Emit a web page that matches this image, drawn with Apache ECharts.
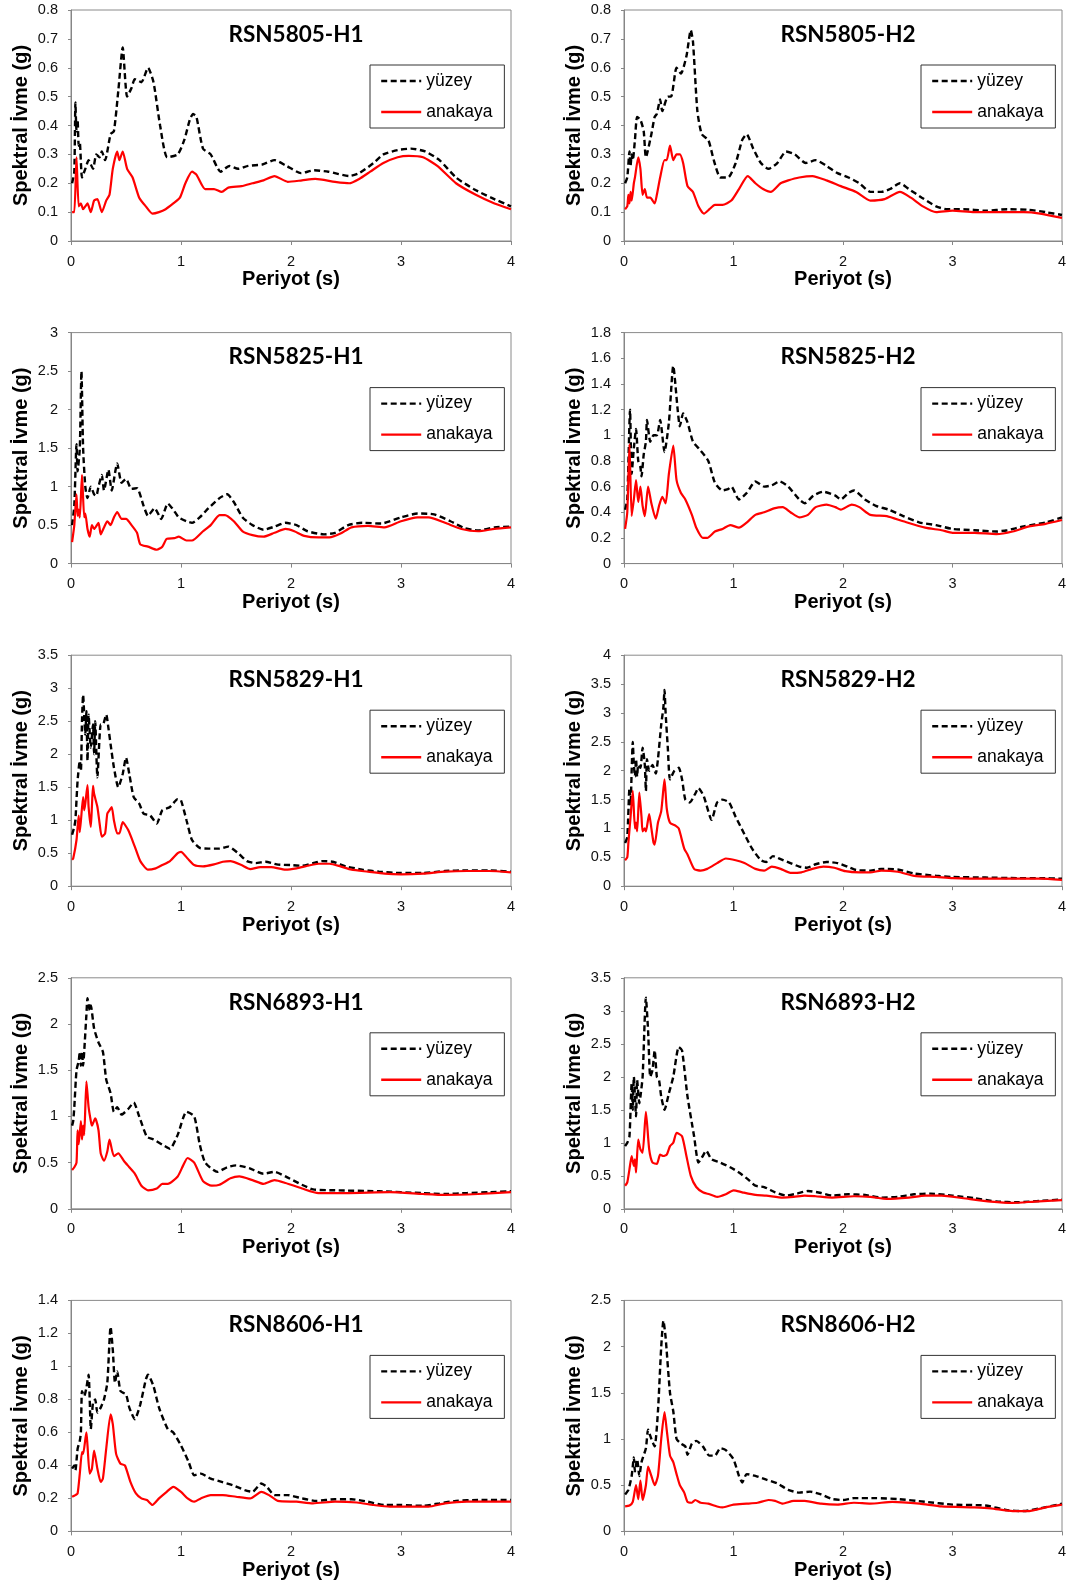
<!DOCTYPE html>
<html>
<head>
<meta charset="utf-8">
<script src="https://cdn.jsdelivr.net/npm/echarts/dist/echarts.min.js"></script>
<style>
  html, body { margin: 0; padding: 0; background: #ffffff; }
  #chart { width: 1075px; height: 1586px; }
</style>
</head>
<body>
<div id="chart"></div>
<script>
// Response spectra: surface (yüzey) vs. bedrock (anakaya), period T [s] vs. Sa [g]

const panelTitles = ['RSN5805-H1', 'RSN5805-H2', 'RSN5825-H1', 'RSN5825-H2', 'RSN5829-H1',
                     'RSN5829-H2', 'RSN6893-H1', 'RSN6893-H2', 'RSN8606-H1', 'RSN8606-H2'];
const yMaxValues = [0.8, 0.8, 3, 1.8, 3.5, 4, 2.5, 3.5, 1.4, 2.5];
const yIntervals = [0.1, 0.1, 0.5, 0.2, 0.5, 0.5, 0.5, 0.5, 0.2, 0.5];
const xTicks = [0, 1, 2, 3, 4];
const seriesNames = ['yüzey', 'anakaya'];

const rsn5805H1Yuzey = [[0.01,0.20],[0.03,0.24],[0.04,0.48],[0.05,0.38],[0.06,0.42],[0.07,0.33],[0.08,0.34],[0.1,0.22],[0.13,0.25],[0.16,0.28],[0.2,0.25],[0.23,0.30],[0.26,0.29],[0.28,0.31],[0.31,0.28],[0.36,0.37],[0.39,0.38],[0.43,0.52],[0.47,0.67],[0.51,0.50],[0.55,0.53],[0.58,0.56],[0.64,0.55],[0.70,0.60],[0.75,0.55],[0.81,0.40],[0.875,0.29],[0.97,0.30],[1.03,0.35],[1.08,0.42],[1.11,0.44],[1.14,0.43],[1.2,0.32],[1.27,0.30],[1.36,0.24],[1.44,0.26],[1.52,0.25],[1.61,0.26],[1.74,0.265],[1.85,0.28],[1.96,0.26],[2.09,0.235],[2.21,0.245],[2.34,0.24],[2.53,0.225],[2.62,0.235],[2.75,0.27],[2.84,0.30],[2.97,0.315],[3.09,0.32],[3.22,0.31],[3.35,0.28],[3.5,0.22],[3.66,0.18],[3.82,0.15],[4.0,0.12]];
const rsn5805H1Anakaya = [[0.01,0.10],[0.03,0.10],[0.05,0.29],[0.07,0.12],[0.09,0.13],[0.11,0.11],[0.13,0.12],[0.15,0.13],[0.18,0.10],[0.21,0.14],[0.24,0.145],[0.28,0.10],[0.32,0.14],[0.35,0.16],[0.38,0.25],[0.42,0.31],[0.44,0.28],[0.47,0.31],[0.51,0.25],[0.56,0.22],[0.62,0.15],[0.68,0.12],[0.74,0.095],[0.8,0.10],[0.86,0.11],[0.93,0.13],[0.99,0.15],[1.04,0.20],[1.1,0.24],[1.14,0.23],[1.22,0.18],[1.3,0.18],[1.37,0.17],[1.43,0.185],[1.55,0.19],[1.65,0.20],[1.75,0.21],[1.85,0.225],[1.97,0.205],[2.1,0.21],[2.22,0.215],[2.4,0.205],[2.53,0.20],[2.62,0.215],[2.72,0.24],[2.84,0.27],[2.97,0.29],[3.07,0.295],[3.2,0.29],[3.33,0.26],[3.5,0.20],[3.68,0.16],[3.85,0.13],[4.0,0.11]];

const rsn5805H2Yuzey = [[0.01,0.20],[0.03,0.22],[0.05,0.31],[0.06,0.26],[0.07,0.30],[0.08,0.28],[0.1,0.35],[0.12,0.43],[0.15,0.42],[0.18,0.38],[0.2,0.29],[0.25,0.37],[0.28,0.43],[0.3,0.44],[0.33,0.49],[0.35,0.45],[0.4,0.50],[0.43,0.50],[0.48,0.60],[0.52,0.58],[0.57,0.64],[0.61,0.73],[0.63,0.69],[0.67,0.45],[0.71,0.37],[0.77,0.35],[0.82,0.28],[0.88,0.22],[0.95,0.22],[1.02,0.27],[1.08,0.35],[1.12,0.37],[1.18,0.32],[1.25,0.27],[1.32,0.25],[1.4,0.27],[1.48,0.31],[1.56,0.30],[1.66,0.27],[1.75,0.28],[1.85,0.26],[1.95,0.235],[2.05,0.22],[2.15,0.20],[2.25,0.17],[2.35,0.17],[2.43,0.18],[2.52,0.20],[2.6,0.18],[2.72,0.15],[2.85,0.12],[2.95,0.11],[3.1,0.11],[3.3,0.105],[3.5,0.11],[3.7,0.108],[3.85,0.10],[4.0,0.09]];
const rsn5805H2Anakaya = [[0.01,0.11],[0.03,0.12],[0.04,0.16],[0.05,0.13],[0.06,0.17],[0.07,0.14],[0.09,0.20],[0.1,0.22],[0.13,0.29],[0.15,0.25],[0.17,0.16],[0.19,0.18],[0.21,0.15],[0.24,0.15],[0.28,0.13],[0.3,0.16],[0.33,0.22],[0.37,0.28],[0.39,0.28],[0.42,0.33],[0.45,0.28],[0.48,0.30],[0.51,0.30],[0.54,0.27],[0.58,0.19],[0.63,0.17],[0.68,0.12],[0.73,0.095],[0.78,0.11],[0.83,0.125],[0.9,0.125],[0.98,0.14],[1.05,0.18],[1.13,0.225],[1.2,0.20],[1.27,0.18],[1.34,0.17],[1.43,0.20],[1.5,0.21],[1.6,0.22],[1.72,0.225],[1.85,0.21],[1.98,0.19],[2.12,0.17],[2.25,0.14],[2.38,0.145],[2.52,0.17],[2.62,0.15],[2.73,0.12],[2.85,0.10],[3.0,0.105],[3.2,0.10],[3.4,0.10],[3.65,0.10],[3.8,0.095],[4.0,0.08]];

const rsn5825H1Yuzey = [[0.01,0.50],[0.03,0.75],[0.05,1.55],[0.06,1.20],[0.08,1.50],[0.095,2.50],[0.11,1.50],[0.13,1.00],[0.15,0.85],[0.18,1.00],[0.21,0.90],[0.23,0.88],[0.25,1.00],[0.28,1.15],[0.3,0.95],[0.34,1.22],[0.37,0.95],[0.42,1.30],[0.46,1.05],[0.5,1.10],[0.55,0.97],[0.6,0.98],[0.66,0.75],[0.7,0.62],[0.76,0.72],[0.82,0.58],[0.88,0.78],[0.93,0.70],[0.98,0.60],[1.05,0.55],[1.1,0.53],[1.17,0.60],[1.25,0.72],[1.35,0.85],[1.42,0.90],[1.48,0.80],[1.56,0.60],[1.65,0.50],[1.75,0.44],[1.85,0.48],[1.95,0.53],[2.05,0.50],[2.15,0.42],[2.3,0.38],[2.4,0.40],[2.52,0.50],[2.65,0.53],[2.82,0.52],[3.0,0.60],[3.15,0.65],[3.3,0.64],[3.45,0.55],[3.58,0.46],[3.7,0.43],[3.85,0.47],[4.0,0.48]];
const rsn5825H1Anakaya = [[0.01,0.28],[0.03,0.50],[0.05,0.90],[0.06,0.62],[0.07,0.70],[0.08,0.60],[0.1,1.15],[0.12,0.60],[0.13,0.65],[0.15,0.45],[0.17,0.35],[0.19,0.50],[0.21,0.45],[0.25,0.53],[0.27,0.38],[0.3,0.47],[0.33,0.55],[0.36,0.50],[0.39,0.60],[0.42,0.67],[0.46,0.58],[0.5,0.58],[0.55,0.50],[0.6,0.40],[0.63,0.25],[0.7,0.22],[0.78,0.18],[0.83,0.22],[0.87,0.32],[0.94,0.33],[0.98,0.35],[1.05,0.30],[1.1,0.30],[1.2,0.42],[1.27,0.50],[1.35,0.63],[1.4,0.63],[1.48,0.55],[1.56,0.42],[1.65,0.37],[1.75,0.35],[1.85,0.40],[1.95,0.45],[2.03,0.42],[2.12,0.36],[2.25,0.34],[2.35,0.34],[2.45,0.39],[2.55,0.47],[2.7,0.49],[2.85,0.47],[3.0,0.55],[3.15,0.60],[3.25,0.60],[3.4,0.53],[3.55,0.45],[3.7,0.42],[3.85,0.45],[4.0,0.47]];

const rsn5825H2Yuzey = [[0.01,0.42],[0.03,0.50],[0.055,1.20],[0.07,0.70],[0.09,0.90],[0.11,1.05],[0.13,0.80],[0.15,0.75],[0.16,0.68],[0.18,0.85],[0.2,0.95],[0.21,1.12],[0.24,0.95],[0.27,1.00],[0.3,1.00],[0.33,1.12],[0.37,0.87],[0.41,1.10],[0.45,1.54],[0.49,1.20],[0.51,1.07],[0.54,1.17],[0.58,1.10],[0.63,0.95],[0.7,0.88],[0.77,0.80],[0.83,0.63],[0.9,0.57],[0.95,0.58],[0.98,0.60],[1.05,0.50],[1.12,0.55],[1.2,0.64],[1.28,0.60],[1.35,0.61],[1.42,0.64],[1.5,0.60],[1.6,0.50],[1.65,0.47],[1.73,0.53],[1.82,0.56],[1.93,0.53],[1.98,0.50],[2.05,0.55],[2.1,0.57],[2.2,0.50],[2.3,0.45],[2.42,0.42],[2.55,0.37],[2.7,0.32],[2.85,0.30],[3.0,0.27],[3.2,0.26],[3.4,0.25],[3.5,0.26],[3.65,0.29],[3.85,0.32],[4.0,0.36]];
const rsn5825H2Anakaya = [[0.01,0.27],[0.03,0.40],[0.05,0.93],[0.07,0.37],[0.09,0.50],[0.11,0.65],[0.13,0.48],[0.15,0.60],[0.17,0.45],[0.19,0.37],[0.22,0.60],[0.25,0.47],[0.29,0.35],[0.32,0.45],[0.35,0.52],[0.38,0.47],[0.41,0.70],[0.45,0.92],[0.48,0.65],[0.52,0.55],[0.56,0.50],[0.62,0.38],[0.66,0.28],[0.72,0.20],[0.76,0.20],[0.83,0.25],[0.9,0.27],[0.97,0.30],[1.05,0.28],[1.12,0.32],[1.2,0.38],[1.28,0.40],[1.37,0.43],[1.45,0.44],[1.52,0.40],[1.6,0.36],[1.68,0.38],[1.75,0.44],[1.85,0.46],[1.93,0.44],[1.98,0.42],[2.08,0.46],[2.15,0.44],[2.25,0.38],[2.4,0.37],[2.55,0.33],[2.75,0.28],[2.9,0.26],[3.0,0.24],[3.2,0.24],[3.4,0.23],[3.55,0.25],[3.7,0.29],[3.85,0.31],[4.0,0.34]];

const rsn5829H1Yuzey = [[0.01,0.78],[0.03,0.90],[0.04,1.00],[0.06,1.60],[0.08,1.90],[0.09,1.75],[0.1,2.50],[0.11,2.90],[0.13,2.30],[0.14,2.65],[0.15,1.90],[0.16,2.60],[0.18,2.10],[0.2,2.45],[0.21,2.00],[0.22,2.50],[0.24,1.65],[0.27,2.45],[0.29,2.45],[0.32,2.60],[0.34,2.40],[0.36,2.15],[0.39,1.80],[0.43,1.50],[0.47,1.70],[0.5,1.95],[0.53,1.70],[0.57,1.35],[0.62,1.25],[0.66,1.10],[0.72,1.07],[0.78,0.95],[0.83,1.15],[0.9,1.20],[0.97,1.32],[1.0,1.30],[1.05,1.00],[1.1,0.70],[1.17,0.58],[1.25,0.57],[1.35,0.57],[1.43,0.60],[1.52,0.50],[1.6,0.38],[1.68,0.35],[1.77,0.37],[1.87,0.33],[2.0,0.32],[2.1,0.31],[2.2,0.35],[2.28,0.38],[2.38,0.37],[2.5,0.30],[2.65,0.25],[2.8,0.22],[3.0,0.20],[3.2,0.20],[3.4,0.23],[3.6,0.24],[3.8,0.24],[4.0,0.22]];
const rsn5829H1Anakaya = [[0.01,0.40],[0.02,0.42],[0.05,0.70],[0.07,1.07],[0.08,0.82],[0.11,1.35],[0.12,1.15],[0.13,1.25],[0.15,1.53],[0.16,1.20],[0.18,0.90],[0.19,1.20],[0.2,1.52],[0.21,1.40],[0.24,1.20],[0.26,0.95],[0.28,0.75],[0.31,0.80],[0.33,1.10],[0.35,1.15],[0.37,1.20],[0.39,1.00],[0.42,0.80],[0.44,0.80],[0.47,0.97],[0.52,0.85],[0.58,0.60],[0.63,0.38],[0.7,0.25],[0.77,0.27],[0.83,0.32],[0.9,0.38],[0.97,0.50],[1.0,0.52],[1.06,0.42],[1.12,0.32],[1.2,0.30],[1.3,0.33],[1.38,0.37],[1.45,0.38],[1.55,0.32],[1.63,0.26],[1.72,0.29],[1.82,0.29],[1.95,0.25],[2.05,0.27],[2.15,0.31],[2.25,0.34],[2.35,0.34],[2.45,0.30],[2.55,0.25],[2.7,0.22],[2.85,0.19],[3.0,0.18],[3.2,0.19],[3.4,0.22],[3.6,0.23],[3.8,0.23],[4.0,0.21]];

const rsn5829H2Yuzey = [[0.01,0.75],[0.03,0.85],[0.05,1.70],[0.06,1.40],[0.07,2.00],[0.08,2.50],[0.09,2.10],[0.1,1.90],[0.11,2.20],[0.12,1.90],[0.13,2.10],[0.15,2.05],[0.17,2.40],[0.19,2.10],[0.2,1.65],[0.21,2.20],[0.23,2.00],[0.26,2.10],[0.29,1.95],[0.31,2.20],[0.34,2.80],[0.36,3.10],[0.37,3.40],[0.38,3.00],[0.4,2.40],[0.42,1.85],[0.46,2.00],[0.5,2.05],[0.53,1.85],[0.56,1.50],[0.6,1.45],[0.65,1.60],[0.68,1.70],[0.73,1.55],[0.8,1.15],[0.85,1.45],[0.9,1.50],[0.96,1.45],[1.02,1.20],[1.1,0.90],[1.17,0.65],[1.25,0.45],[1.3,0.42],[1.36,0.52],[1.43,0.47],[1.52,0.40],[1.6,0.34],[1.67,0.32],[1.75,0.38],[1.85,0.42],[1.95,0.40],[2.05,0.33],[2.12,0.28],[2.25,0.27],[2.35,0.30],[2.5,0.29],[2.65,0.22],[2.85,0.18],[3.0,0.16],[3.3,0.15],[3.6,0.14],[3.8,0.14],[4.0,0.13]];
const rsn5829H2Anakaya = [[0.01,0.45],[0.03,0.50],[0.04,0.75],[0.06,1.20],[0.08,1.65],[0.1,1.00],[0.11,1.10],[0.12,0.95],[0.14,1.62],[0.16,1.20],[0.17,0.95],[0.19,1.00],[0.2,0.95],[0.23,1.25],[0.25,1.00],[0.27,0.75],[0.28,0.72],[0.31,1.10],[0.34,1.30],[0.37,1.85],[0.39,1.35],[0.42,1.10],[0.47,1.05],[0.5,1.00],[0.55,0.65],[0.58,0.55],[0.64,0.30],[0.7,0.27],[0.76,0.30],[0.85,0.40],[0.93,0.48],[1.02,0.45],[1.1,0.40],[1.2,0.30],[1.28,0.27],[1.35,0.34],[1.43,0.30],[1.52,0.23],[1.62,0.24],[1.72,0.30],[1.82,0.34],[1.92,0.32],[2.02,0.26],[2.15,0.24],[2.25,0.24],[2.35,0.27],[2.5,0.25],[2.65,0.18],[2.85,0.16],[3.0,0.14],[3.3,0.13],[3.6,0.13],[3.8,0.13],[4.0,0.11]];

const rsn6893H1Yuzey = [[0.01,0.90],[0.02,0.95],[0.03,1.10],[0.05,1.50],[0.07,1.60],[0.08,1.70],[0.09,1.55],[0.1,1.70],[0.11,1.55],[0.12,1.70],[0.14,2.10],[0.15,2.28],[0.17,2.15],[0.18,2.20],[0.21,1.95],[0.25,1.80],[0.29,1.70],[0.32,1.40],[0.36,1.25],[0.39,1.05],[0.42,1.10],[0.46,1.02],[0.52,1.08],[0.57,1.15],[0.62,1.00],[0.69,0.78],[0.75,0.75],[0.85,0.68],[0.9,0.65],[0.97,0.80],[1.05,1.05],[1.12,1.00],[1.17,0.70],[1.22,0.50],[1.33,0.40],[1.42,0.45],[1.5,0.47],[1.62,0.44],[1.75,0.38],[1.85,0.40],[1.95,0.35],[2.1,0.26],[2.2,0.21],[2.4,0.20],[2.8,0.19],[3.2,0.17],[3.4,0.16],[3.6,0.17],[3.8,0.18],[4.0,0.19]];
const rsn6893H1Anakaya = [[0.01,0.42],[0.03,0.45],[0.05,0.50],[0.06,0.85],[0.07,0.70],[0.09,0.95],[0.1,0.75],[0.11,0.90],[0.12,0.80],[0.14,1.38],[0.16,1.10],[0.18,0.95],[0.19,0.90],[0.22,0.98],[0.25,0.85],[0.27,0.60],[0.3,0.52],[0.33,0.62],[0.35,0.75],[0.39,0.57],[0.43,0.60],[0.48,0.52],[0.53,0.45],[0.58,0.38],[0.64,0.25],[0.7,0.20],[0.78,0.22],[0.83,0.27],[0.88,0.27],[0.97,0.35],[1.02,0.47],[1.06,0.55],[1.12,0.50],[1.2,0.30],[1.28,0.25],[1.35,0.26],[1.45,0.33],[1.53,0.35],[1.65,0.31],[1.75,0.27],[1.85,0.31],[1.95,0.28],[2.1,0.22],[2.25,0.17],[2.5,0.17],[2.9,0.18],[3.2,0.16],[3.4,0.15],[3.7,0.16],[4.0,0.18]];

const rsn6893H2Yuzey = [[0.01,0.95],[0.03,1.00],[0.05,1.10],[0.07,1.90],[0.08,1.50],[0.09,2.00],[0.11,1.40],[0.12,1.95],[0.14,1.60],[0.15,1.70],[0.17,2.00],[0.2,3.20],[0.22,2.70],[0.24,2.00],[0.26,2.10],[0.28,2.40],[0.3,2.00],[0.32,1.95],[0.34,1.70],[0.37,1.50],[0.41,1.75],[0.45,2.00],[0.5,2.45],[0.53,2.40],[0.58,1.70],[0.64,1.10],[0.68,0.70],[0.72,0.80],[0.75,0.88],[0.8,0.75],[0.88,0.70],[0.97,0.63],[1.05,0.55],[1.13,0.45],[1.2,0.35],[1.28,0.33],[1.38,0.25],[1.48,0.20],[1.58,0.23],[1.68,0.27],[1.8,0.24],[1.9,0.20],[2.05,0.22],[2.2,0.21],[2.35,0.17],[2.5,0.18],[2.65,0.22],[2.8,0.23],[3.0,0.20],[3.2,0.16],[3.4,0.11],[3.6,0.10],[3.8,0.12],[4.0,0.14]];
const rsn6893H2Anakaya = [[0.01,0.35],[0.03,0.40],[0.05,0.60],[0.07,0.80],[0.09,0.65],[0.1,0.75],[0.11,0.55],[0.13,1.05],[0.15,0.90],[0.17,0.85],[0.2,1.47],[0.23,0.90],[0.26,0.70],[0.3,0.68],[0.33,0.82],[0.36,0.80],[0.39,0.82],[0.42,0.95],[0.45,1.00],[0.48,1.15],[0.53,1.10],[0.57,0.80],[0.61,0.50],[0.66,0.33],[0.72,0.25],[0.78,0.22],[0.85,0.18],[0.93,0.22],[1.0,0.28],[1.08,0.25],[1.2,0.21],[1.3,0.20],[1.45,0.17],[1.55,0.18],[1.65,0.20],[1.75,0.19],[1.9,0.17],[2.1,0.19],[2.25,0.18],[2.4,0.15],[2.6,0.17],[2.75,0.20],[2.9,0.20],[3.1,0.16],[3.35,0.11],[3.55,0.09],[3.75,0.11],[4.0,0.13]];

const rsn8606H1Yuzey = [[0.01,0.38],[0.03,0.40],[0.04,0.37],[0.06,0.50],[0.08,0.55],[0.09,0.60],[0.1,0.85],[0.12,0.82],[0.14,0.87],[0.16,0.95],[0.17,0.80],[0.18,0.62],[0.2,0.78],[0.22,0.80],[0.24,0.72],[0.27,0.75],[0.3,0.80],[0.33,0.90],[0.36,1.24],[0.38,1.10],[0.4,0.90],[0.42,0.97],[0.45,0.85],[0.5,0.83],[0.53,0.75],[0.58,0.68],[0.63,0.77],[0.68,0.92],[0.7,0.95],[0.75,0.88],[0.8,0.75],[0.88,0.62],[0.93,0.60],[1.0,0.52],[1.07,0.42],[1.12,0.34],[1.18,0.35],[1.27,0.32],[1.37,0.30],[1.47,0.28],[1.58,0.25],[1.65,0.24],[1.73,0.29],[1.78,0.27],[1.85,0.22],[1.97,0.22],[2.1,0.20],[2.23,0.185],[2.4,0.195],[2.55,0.195],[2.7,0.18],[2.85,0.16],[3.0,0.16],[3.2,0.155],[3.35,0.17],[3.5,0.185],[3.7,0.19],[4.0,0.19]];
const rsn8606H1Anakaya = [[0.01,0.21],[0.04,0.22],[0.06,0.23],[0.08,0.35],[0.1,0.48],[0.11,0.47],[0.14,0.60],[0.15,0.52],[0.17,0.35],[0.19,0.38],[0.21,0.49],[0.24,0.38],[0.27,0.30],[0.29,0.32],[0.32,0.50],[0.36,0.71],[0.38,0.65],[0.41,0.47],[0.45,0.41],[0.49,0.40],[0.54,0.30],[0.59,0.23],[0.64,0.20],[0.69,0.19],[0.74,0.16],[0.8,0.20],[0.87,0.24],[0.93,0.27],[1.0,0.24],[1.06,0.20],[1.12,0.18],[1.18,0.20],[1.27,0.22],[1.38,0.22],[1.5,0.21],[1.63,0.20],[1.73,0.24],[1.8,0.22],[1.88,0.185],[2.05,0.18],[2.2,0.17],[2.4,0.18],[2.6,0.175],[2.75,0.16],[2.9,0.15],[3.1,0.15],[3.25,0.15],[3.4,0.17],[3.6,0.18],[4.0,0.18]];

const rsn8606H2Yuzey = [[0.01,0.40],[0.04,0.45],[0.07,0.60],[0.09,0.80],[0.1,0.65],[0.12,0.78],[0.14,0.60],[0.16,0.75],[0.2,0.90],[0.22,1.10],[0.25,1.00],[0.28,0.92],[0.31,1.30],[0.34,2.00],[0.36,2.28],[0.38,2.10],[0.42,1.50],[0.45,1.30],[0.48,1.00],[0.52,0.95],[0.56,0.92],[0.58,0.83],[0.62,0.95],[0.66,0.98],[0.72,0.92],[0.78,0.82],[0.83,0.82],[0.88,0.90],[0.93,0.88],[1.0,0.78],[1.05,0.60],[1.08,0.53],[1.12,0.62],[1.2,0.60],[1.3,0.56],[1.4,0.52],[1.5,0.45],[1.6,0.42],[1.7,0.43],[1.8,0.40],[1.9,0.35],[2.0,0.34],[2.1,0.36],[2.3,0.36],[2.5,0.35],[2.75,0.32],[3.0,0.29],[3.3,0.28],[3.5,0.23],[3.65,0.22],[3.8,0.25],[4.0,0.30]];
const rsn8606H2Anakaya = [[0.01,0.27],[0.05,0.28],[0.08,0.32],[0.11,0.50],[0.13,0.35],[0.15,0.55],[0.17,0.34],[0.2,0.50],[0.22,0.70],[0.25,0.60],[0.28,0.50],[0.31,0.60],[0.34,1.00],[0.37,1.29],[0.39,1.10],[0.42,0.82],[0.45,0.75],[0.48,0.62],[0.51,0.50],[0.55,0.42],[0.58,0.32],[0.62,0.31],[0.65,0.34],[0.7,0.31],[0.77,0.30],[0.85,0.27],[0.9,0.26],[1.0,0.29],[1.12,0.30],[1.22,0.31],[1.32,0.34],[1.38,0.33],[1.45,0.30],[1.55,0.33],[1.65,0.33],[1.8,0.30],[1.95,0.29],[2.1,0.31],[2.25,0.30],[2.45,0.32],[2.7,0.30],[2.9,0.27],[3.2,0.26],[3.35,0.25],[3.55,0.22],[3.7,0.22],[3.85,0.26],[4.0,0.29]];

const surfaceSets = [rsn5805H1Yuzey, rsn5805H2Yuzey, rsn5825H1Yuzey, rsn5825H2Yuzey, rsn5829H1Yuzey,
                     rsn5829H2Yuzey, rsn6893H1Yuzey, rsn6893H2Yuzey, rsn8606H1Yuzey, rsn8606H2Yuzey];
const bedrockSets = [rsn5805H1Anakaya, rsn5805H2Anakaya, rsn5825H1Anakaya, rsn5825H2Anakaya, rsn5829H1Anakaya,
                     rsn5829H2Anakaya, rsn6893H1Anakaya, rsn6893H2Anakaya, rsn8606H1Anakaya, rsn8606H2Anakaya];

// Panel layout (2 columns x 5 rows)
const colLeft = [71, 624];
const colWidth = [440, 438];
const rowTop0 = 10;
const rowStep = 322.6;
const plotHeight = 231;

const labelFont = 'Arial, "Liberation Sans", sans-serif';
const grids = [], xAxes = [], yAxes = [], series = [], titles = [], legends = [];

panelTitles.forEach(function (name, i) {
  const col = i % 2, row = Math.floor(i / 2);
  const left = colLeft[col], width = colWidth[col];
  const top = rowTop0 + row * rowStep;

  grids.push({
    left: left, top: top, width: width, height: plotHeight,
    show: true, borderColor: '#8a8a8a', borderWidth: 1, backgroundColor: 'transparent',
    containLabel: false
  });

  xAxes.push({
    type: 'value', gridIndex: i, min: xTicks[0], max: xTicks[xTicks.length - 1], interval: 1,
    name: 'Periyot (s)', nameLocation: 'middle', nameGap: 28,
    nameTextStyle: { fontFamily: labelFont, fontWeight: 'bold', fontSize: 20, color: '#000' },
    axisLine: { show: true, onZero: false, lineStyle: { color: '#868686', width: 1 } },
    axisTick: { show: true, inside: false, length: 4, lineStyle: { color: '#868686' } },
    axisLabel: { fontFamily: labelFont, fontSize: 14.5, color: '#111', margin: 13 },
    splitLine: { show: false }
  });

  yAxes.push({
    type: 'value', gridIndex: i, min: 0, max: yMaxValues[i], interval: yIntervals[i],
    name: 'Spektral İvme (g)', nameLocation: 'middle', nameGap: 40, nameRotate: 90,
    nameTextStyle: { fontFamily: labelFont, fontWeight: 'bold', fontSize: 20, color: '#000' },
    axisLine: { show: true, onZero: false, lineStyle: { color: '#868686', width: 1 } },
    axisTick: { show: true, inside: false, length: 3, lineStyle: { color: '#868686' } },
    axisLabel: { fontFamily: labelFont, fontSize: 14.5, color: '#111', margin: 13 },
    splitLine: { show: false }
  });

  titles.push({
    text: name, left: left + width / 2, top: top + 8, textAlign: 'center',
    textStyle: { fontFamily: 'Lato, "Open Sans", sans-serif', fontWeight: 'bold', fontSize: 22.5, color: '#000' }
  });

  legends.push({
    data: seriesNames, orient: 'vertical',
    left: left + width - 141, top: top + 55,
    padding: [7, 12, 7, 10], itemGap: 13, itemWidth: 40, itemHeight: 16,
    borderColor: '#333', borderWidth: 1, backgroundColor: '#fff',
    itemStyle: { opacity: 0, borderWidth: 0 },
    lineStyle: { width: 2.4 },
    textStyle: { fontFamily: labelFont, fontSize: 17.5, color: '#000', padding: [0, 0, 0, 0] },
    selectedMode: false
  });

  series.push({
    name: seriesNames[0], type: 'line', xAxisIndex: i, yAxisIndex: i,
    data: surfaceSets[i], showSymbol: false, symbol: 'none', smooth: 0.2,
    lineStyle: { color: '#000', width: 2.4, type: [6, 3.5] },
    itemStyle: { color: '#000' }, z: 3, animation: false
  });
  series.push({
    name: seriesNames[1], type: 'line', xAxisIndex: i, yAxisIndex: i,
    data: bedrockSets[i], showSymbol: false, symbol: 'none', smooth: 0.2,
    lineStyle: { color: '#ff0000', width: 2.2, type: 'solid' },
    itemStyle: { color: '#ff0000' }, z: 4, animation: false
  });
});

const chart = echarts.init(document.getElementById('chart'), null, { renderer: 'canvas' });
chart.setOption({
  backgroundColor: '#ffffff',
  animation: false,
  title: titles,
  legend: legends,
  grid: grids,
  xAxis: xAxes,
  yAxis: yAxes,
  series: series
});
</script>
</body>
</html>
